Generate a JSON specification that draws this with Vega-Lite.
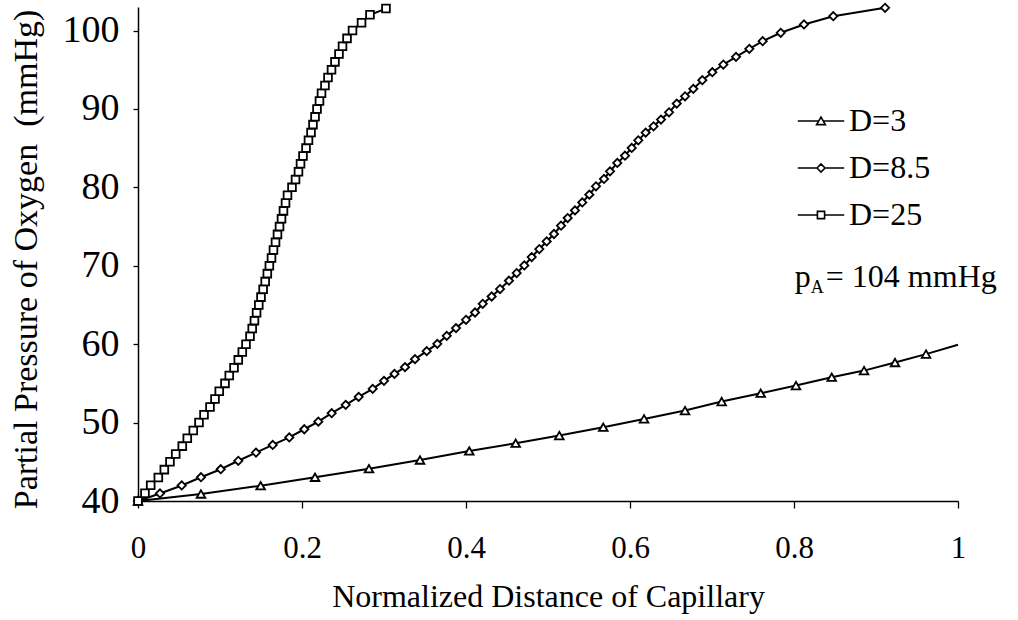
{
  "$schema": "https://vega.github.io/schema/vega-lite/v6.json",
  "width": 820,
  "height": 494,
  "autosize": {"type": "none"},
  "padding": {"left": 138, "top": 7, "right": 60, "bottom": 119},
  "background": "white",
  "config": {
    "font": "Liberation Serif",
    "view": {"stroke": null},
    "text": {"font": "Liberation Serif"},
    "axis": {
      "grid": false,
      "domainColor": "black",
      "domainWidth": 1.5,
      "tickColor": "black",
      "tickWidth": 1.3,
      "labelColor": "black",
      "titleColor": "black",
      "labelFont": "Liberation Serif",
      "titleFont": "Liberation Serif",
      "titleFontWeight": "normal"
    },
    "legend": {"labelFont": "Liberation Serif"}
  },
  "datasets": {
    "curves": [
      {"D": "D=3", "x": 0, "p": 40},
      {"D": "D=3", "x": 0.0768, "p": 40.89},
      {"D": "D=3", "x": 0.1496, "p": 41.95},
      {"D": "D=3", "x": 0.2159, "p": 43.03},
      {"D": "D=3", "x": 0.2817, "p": 44.12},
      {"D": "D=3", "x": 0.3439, "p": 45.23},
      {"D": "D=3", "x": 0.404, "p": 46.38},
      {"D": "D=3", "x": 0.4606, "p": 47.37},
      {"D": "D=3", "x": 0.5138, "p": 48.34},
      {"D": "D=3", "x": 0.5674, "p": 49.41},
      {"D": "D=3", "x": 0.6171, "p": 50.47},
      {"D": "D=3", "x": 0.6671, "p": 51.53},
      {"D": "D=3", "x": 0.7118, "p": 52.68},
      {"D": "D=3", "x": 0.7594, "p": 53.75},
      {"D": "D=3", "x": 0.8024, "p": 54.72},
      {"D": "D=3", "x": 0.846, "p": 55.79},
      {"D": "D=3", "x": 0.8854, "p": 56.63},
      {"D": "D=3", "x": 0.9232, "p": 57.66},
      {"D": "D=3", "x": 0.961, "p": 58.73},
      {"D": "D=3", "x": 1.0, "p": 59.92},

      {"D": "D=8.5", "x": 0, "p": 40},
      {"D": "D=8.5", "x": 0.0268, "p": 40.96},
      {"D": "D=8.5", "x": 0.0533, "p": 41.98},
      {"D": "D=8.5", "x": 0.0768, "p": 43.03},
      {"D": "D=8.5", "x": 0.1009, "p": 44.05},
      {"D": "D=8.5", "x": 0.1223, "p": 45.13},
      {"D": "D=8.5", "x": 0.1439, "p": 46.17},
      {"D": "D=8.5", "x": 0.1643, "p": 47.15},
      {"D": "D=8.5", "x": 0.1845, "p": 48.11},
      {"D": "D=8.5", "x": 0.2028, "p": 49.15},
      {"D": "D=8.5", "x": 0.2199, "p": 50.12},
      {"D": "D=8.5", "x": 0.2362, "p": 51.2},
      {"D": "D=8.5", "x": 0.2533, "p": 52.26},
      {"D": "D=8.5", "x": 0.2691, "p": 53.28},
      {"D": "D=8.5", "x": 0.2862, "p": 54.3},
      {"D": "D=8.5", "x": 0.3, "p": 55.32},
      {"D": "D=8.5", "x": 0.3128, "p": 56.21},
      {"D": "D=8.5", "x": 0.3256, "p": 57.07},
      {"D": "D=8.5", "x": 0.3378, "p": 58.09},
      {"D": "D=8.5", "x": 0.3521, "p": 59.11},
      {"D": "D=8.5", "x": 0.365, "p": 60.04},
      {"D": "D=8.5", "x": 0.3765, "p": 61.06},
      {"D": "D=8.5", "x": 0.3878, "p": 62.05},
      {"D": "D=8.5", "x": 0.4, "p": 63.11},
      {"D": "D=8.5", "x": 0.411, "p": 64.04},
      {"D": "D=8.5", "x": 0.4204, "p": 65.15},
      {"D": "D=8.5", "x": 0.4313, "p": 66.08},
      {"D": "D=8.5", "x": 0.4415, "p": 67.03},
      {"D": "D=8.5", "x": 0.4524, "p": 68.09},
      {"D": "D=8.5", "x": 0.4618, "p": 69.07},
      {"D": "D=8.5", "x": 0.4711, "p": 70.04},
      {"D": "D=8.5", "x": 0.4801, "p": 71.11},
      {"D": "D=8.5", "x": 0.4894, "p": 72.13},
      {"D": "D=8.5", "x": 0.4984, "p": 73.1},
      {"D": "D=8.5", "x": 0.5073, "p": 74.05},
      {"D": "D=8.5", "x": 0.5159, "p": 75.11},
      {"D": "D=8.5", "x": 0.524, "p": 76.09},
      {"D": "D=8.5", "x": 0.5329, "p": 77.06},
      {"D": "D=8.5", "x": 0.5418, "p": 78.08},
      {"D": "D=8.5", "x": 0.5504, "p": 79.07},
      {"D": "D=8.5", "x": 0.5585, "p": 80.13},
      {"D": "D=8.5", "x": 0.5683, "p": 81.07},
      {"D": "D=8.5", "x": 0.5756, "p": 82.04},
      {"D": "D=8.5", "x": 0.5845, "p": 83.11},
      {"D": "D=8.5", "x": 0.5939, "p": 84.04},
      {"D": "D=8.5", "x": 0.6021, "p": 85.03},
      {"D": "D=8.5", "x": 0.6101, "p": 86.0},
      {"D": "D=8.5", "x": 0.6191, "p": 86.98},
      {"D": "D=8.5", "x": 0.6287, "p": 87.78},
      {"D": "D=8.5", "x": 0.6378, "p": 88.64},
      {"D": "D=8.5", "x": 0.6476, "p": 89.57},
      {"D": "D=8.5", "x": 0.657, "p": 90.68},
      {"D": "D=8.5", "x": 0.6671, "p": 91.61},
      {"D": "D=8.5", "x": 0.6772, "p": 92.56},
      {"D": "D=8.5", "x": 0.6882, "p": 93.66},
      {"D": "D=8.5", "x": 0.7004, "p": 94.68},
      {"D": "D=8.5", "x": 0.7138, "p": 95.66},
      {"D": "D=8.5", "x": 0.7293, "p": 96.64},
      {"D": "D=8.5", "x": 0.7455, "p": 97.66},
      {"D": "D=8.5", "x": 0.7618, "p": 98.64},
      {"D": "D=8.5", "x": 0.7838, "p": 99.71},
      {"D": "D=8.5", "x": 0.8122, "p": 100.77},
      {"D": "D=8.5", "x": 0.8479, "p": 101.83},
      {"D": "D=8.5", "x": 0.911, "p": 102.9},

      {"D": "D=25", "x": 0, "p": 40},
      {"D": "D=25", "x": 0.0085, "p": 41},
      {"D": "D=25", "x": 0.0155, "p": 42},
      {"D": "D=25", "x": 0.0248, "p": 43},
      {"D": "D=25", "x": 0.0321, "p": 44},
      {"D": "D=25", "x": 0.039, "p": 45},
      {"D": "D=25", "x": 0.046, "p": 46},
      {"D": "D=25", "x": 0.054, "p": 47},
      {"D": "D=25", "x": 0.0601, "p": 48},
      {"D": "D=25", "x": 0.0674, "p": 49},
      {"D": "D=25", "x": 0.0744, "p": 50},
      {"D": "D=25", "x": 0.0805, "p": 51},
      {"D": "D=25", "x": 0.0878, "p": 52},
      {"D": "D=25", "x": 0.0939, "p": 53},
      {"D": "D=25", "x": 0.0991, "p": 54},
      {"D": "D=25", "x": 0.1061, "p": 55},
      {"D": "D=25", "x": 0.1113, "p": 56},
      {"D": "D=25", "x": 0.1171, "p": 57},
      {"D": "D=25", "x": 0.1223, "p": 58},
      {"D": "D=25", "x": 0.1272, "p": 59},
      {"D": "D=25", "x": 0.1317, "p": 60},
      {"D": "D=25", "x": 0.1366, "p": 61},
      {"D": "D=25", "x": 0.1393, "p": 62},
      {"D": "D=25", "x": 0.142, "p": 63},
      {"D": "D=25", "x": 0.1446, "p": 64},
      {"D": "D=25", "x": 0.1473, "p": 65},
      {"D": "D=25", "x": 0.15, "p": 66},
      {"D": "D=25", "x": 0.1526, "p": 67},
      {"D": "D=25", "x": 0.1551, "p": 68},
      {"D": "D=25", "x": 0.1577, "p": 69},
      {"D": "D=25", "x": 0.1602, "p": 70},
      {"D": "D=25", "x": 0.1628, "p": 71},
      {"D": "D=25", "x": 0.1652, "p": 72},
      {"D": "D=25", "x": 0.1677, "p": 73},
      {"D": "D=25", "x": 0.1701, "p": 74},
      {"D": "D=25", "x": 0.1726, "p": 75},
      {"D": "D=25", "x": 0.175, "p": 76},
      {"D": "D=25", "x": 0.1774, "p": 77},
      {"D": "D=25", "x": 0.1799, "p": 78},
      {"D": "D=25", "x": 0.1823, "p": 79},
      {"D": "D=25", "x": 0.1878, "p": 80},
      {"D": "D=25", "x": 0.1921, "p": 81},
      {"D": "D=25", "x": 0.1957, "p": 82},
      {"D": "D=25", "x": 0.1982, "p": 83},
      {"D": "D=25", "x": 0.2012, "p": 84},
      {"D": "D=25", "x": 0.2049, "p": 85},
      {"D": "D=25", "x": 0.2079, "p": 86},
      {"D": "D=25", "x": 0.211, "p": 87},
      {"D": "D=25", "x": 0.2134, "p": 88},
      {"D": "D=25", "x": 0.2159, "p": 89},
      {"D": "D=25", "x": 0.2183, "p": 90},
      {"D": "D=25", "x": 0.2213, "p": 91},
      {"D": "D=25", "x": 0.2238, "p": 92},
      {"D": "D=25", "x": 0.228, "p": 93},
      {"D": "D=25", "x": 0.2317, "p": 94},
      {"D": "D=25", "x": 0.236, "p": 95},
      {"D": "D=25", "x": 0.2402, "p": 96},
      {"D": "D=25", "x": 0.2451, "p": 97},
      {"D": "D=25", "x": 0.2494, "p": 98},
      {"D": "D=25", "x": 0.2549, "p": 99},
      {"D": "D=25", "x": 0.2616, "p": 100},
      {"D": "D=25", "x": 0.2726, "p": 101},
      {"D": "D=25", "x": 0.2829, "p": 102},
      {"D": "D=25", "x": 0.3024, "p": 102.8}
    ],
    "note": [{"part": "p"}]
  },
  "layer": [
    {
      "data": {"name": "curves"},
      "mark": {"type": "line", "color": "black", "strokeWidth": 2},
      "encoding": {
        "x": {
          "field": "x",
          "type": "quantitative",
          "scale": {"domain": [0, 1], "nice": false, "zero": false},
          "axis": {
            "values": [0, 0.2, 0.4, 0.6, 0.8, 1],
            "format": "~g",
            "title": "Normalized Distance of Capillary",
            "labelFont": "Liberation Serif",
            "labelFontSize": 31,
            "labelPadding": 25,
            "labelFlush": false,
            "tickSize": 7,
            "titleFont": "Liberation Serif",
            "titleFontSize": 32,
            "titleBaseline": "alphabetic",
            "titleY": 105
          }
        },
        "y": {
          "field": "p",
          "type": "quantitative",
          "scale": {"domain": [40, 103], "nice": false, "zero": false},
          "axis": {
            "values": [40, 50, 60, 70, 80, 90, 100],
            "title": "Partial Pressure of Oxygen\u00a0 (mmHg)",
            "labelFont": "Liberation Serif",
            "labelFontSize": 38,
            "labelPadding": 14,
            "labelFlush": false,
            "tickSize": 5,
            "titleFont": "Liberation Serif",
            "titleFontSize": 34,
            "titleBaseline": "alphabetic",
            "titleX": -102,
            "titleY": 252,
            "titleAngle": -90
          }
        },
        "detail": {"field": "D"},
        "order": {"field": "x"}
      }
    },
    {
      "data": {"name": "curves"},
      "transform": [{"filter": "datum.x < 1"}],
      "mark": {"type": "point", "filled": true, "fill": "white", "stroke": "black", "strokeWidth": 1.8, "opacity": 1},
      "encoding": {
        "x": {"field": "x", "type": "quantitative"},
        "y": {"field": "p", "type": "quantitative"},
        "shape": {
          "field": "D",
          "scale": {"domain": ["D=3", "D=8.5", "D=25"], "range": ["triangle-up", "diamond", "square"]},
          "legend": null
        },
        "size": {
          "field": "D",
          "type": "nominal",
          "scale": {"domain": ["D=3", "D=8.5", "D=25"], "range": [75, 60, 80]},
          "legend": null
        }
      }
    },
    {
      "data": {"name": "curves"},
      "mark": {"type": "point", "opacity": 0},
      "encoding": {
        "x": {"field": "x", "type": "quantitative"},
        "y": {"field": "p", "type": "quantitative"},
        "shape": {
          "field": "D",
          "scale": {
            "domain": ["D=3", "D=8.5", "D=25"],
            "range": [
              "M-2.9,0H-0.3M0.3,0H2.9M-0.55,0.45L0,-0.5L0.55,0.45Z",
              "M-2.9,0H-0.5M0.5,0H2.9M-0.5,0L0,-0.5L0.5,0L0,0.5Z",
              "M-2.9,0H-0.45M0.45,0H2.9M-0.45,-0.45H0.45V0.45H-0.45Z"
            ]
          },
          "legend": {
            "title": null,
            "orient": "none",
            "legendX": 667,
            "legendY": 98,
            "padding": 0,
            "symbolSize": 256,
            "symbolStrokeWidth": 1.6,
            "symbolStrokeColor": "black",
            "symbolFillColor": "white",
            "symbolOpacity": 1,
            "labelFont": "Liberation Serif",
            "labelFontSize": 32,
            "labelColor": "black",
            "labelOffset": 12,
            "labelLimit": 0,
            "rowPadding": 15,
            "encode": {
              "symbols": {
                "update": {
                  "opacity": {"value": 1},
                  "fill": {"value": "white"},
                  "stroke": {"value": "black"},
                  "strokeWidth": {"value": 1.6}
                }
              }
            }
          }
        }
      }
    },
    {
      "data": {"name": "note"},
      "mark": {"type": "text", "text": "p", "font": "Liberation Serif", "fontSize": 32, "align": "left", "baseline": "alphabetic", "color": "black"},
      "encoding": {"x": {"datum": 0.801}, "y": {"datum": 67.3}}
    },
    {
      "data": {"name": "note"},
      "mark": {"type": "text", "text": "A", "font": "Liberation Serif", "fontSize": 18, "align": "left", "baseline": "alphabetic", "dx": 16, "dy": 6, "color": "black"},
      "encoding": {"x": {"datum": 0.801}, "y": {"datum": 67.3}}
    },
    {
      "data": {"name": "note"},
      "mark": {"type": "text", "text": "= 104 mmHg", "font": "Liberation Serif", "fontSize": 32, "align": "left", "baseline": "alphabetic", "dx": 31, "color": "black"},
      "encoding": {"x": {"datum": 0.801}, "y": {"datum": 67.3}}
    }
  ],
  "resolve": {"scale": {"shape": "independent", "size": "independent"}, "legend": {"shape": "independent"}}
}
